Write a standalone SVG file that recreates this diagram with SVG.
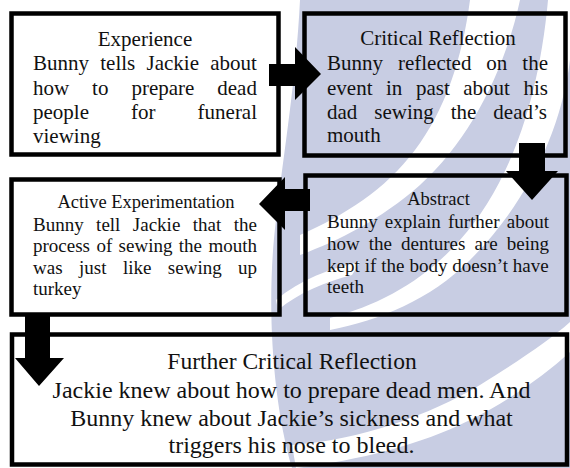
<svg xmlns="http://www.w3.org/2000/svg" width="570" height="468" viewBox="0 0 570 468">
<style>
.box{fill:none;stroke:#000;stroke-width:4.5}
.arr{fill:#000}
text{font-family:"Liberation Serif","Times New Roman",serif;fill:#111}
.t21{font-size:21px}
.t19{font-size:19px}
.h18{font-size:18.5px}
.t24{font-size:24px}
.h23{font-size:23.5px}
.c{text-anchor:middle}
.wm{fill:#c8cde3}
.wh{fill:#ffffff}
</style>
<rect width="570" height="468" fill="#fff"/>
<g id="watermark">
<path class="wm" d="M300 0 L570 0 L570 468 L292 468 C272 400 266 300 276 220 C284 150 296 80 300 0 Z"/>
<path class="wh" d="M470 0 L520 0 C505 70 470 140 420 185 C380 220 340 240 300 255 L300 235 C345 215 385 190 415 150 C445 110 462 60 470 0 Z"/>
<path class="wh" d="M548 0 L570 0 L570 60 C560 140 520 210 470 260 C430 300 380 320 330 330 L330 318 C380 305 425 280 460 240 C505 190 538 110 548 0 Z"/>
<path class="wh" d="M292 445 C360 440 430 415 480 385 C520 360 550 340 570 322 L570 352 C545 375 510 400 470 420 C420 445 360 460 296 468 Z"/>
<path class="wh" d="M276 300 C300 280 330 268 360 262 L352 275 C325 282 300 292 278 310 Z"/>
</g>
<g id="connectors">
<polygon class="arr" points="269,64 295,64 295,47 321,74 295,100 295,86 269,86"/>
<polygon class="arr" points="519,143 545,143 545,171 558,171 532,200 506,171 519,171"/>
<polygon class="arr" points="310,189 285,189 285,177 259,204 285,230 285,211 310,211"/>
<polygon class="arr" points="25,316 50,316 50,358 64,358 39,386 15,358 25,358"/>
</g>
<g id="experience">
<rect class="box" x="11.5" y="13.5" width="267" height="141"/>
<text class="t21 c" x="145" y="46">Experience</text>
<text class="t21" x="33" y="70" word-spacing="6">Bunny tells Jackie about</text>
<text class="t21" x="33" y="94.5" word-spacing="17.7">how to prepare dead</text>
<text class="t21" x="33" y="119" word-spacing="36.8">people for funeral</text>
<text class="t21" x="33" y="143">viewing</text>
</g>
<g id="critical-reflection">
<rect class="box" x="304.5" y="13.5" width="261" height="142"/>
<text class="t21 c" x="438" y="45">Critical Reflection</text>
<text class="t21" x="327" y="70" word-spacing="9.7">Bunny reflected on the</text>
<text class="t21" x="327" y="95" word-spacing="8.3">event in past about his</text>
<text class="t21" x="327" y="118.5" word-spacing="11.7">dad sewing the dead’s</text>
<text class="t21" x="327" y="142">mouth</text>
</g>
<g id="abstract">
<rect class="box" x="305.5" y="175.5" width="261" height="139"/>
<text class="h18 c" x="438.5" y="205">Abstract</text>
<text class="t19" x="327" y="228" word-spacing="2.4">Bunny explain further about</text>
<text class="t19" x="327" y="250" word-spacing="4.3">how the dentures are being</text>
<text class="t19" x="327" y="272" word-spacing="0.2">kept if the body doesn’t have</text>
<text class="t19" x="327" y="293">teeth</text>
</g>
<g id="active-experimentation">
<rect class="box" x="11.5" y="179.5" width="268" height="135"/>
<text class="h18 c" x="146" y="208">Active Experimentation</text>
<text class="t19" x="33" y="230.5" word-spacing="7.7">Bunny tell Jackie that the</text>
<text class="t19" x="33" y="252" word-spacing="1.65">process of sewing the mouth</text>
<text class="t19" x="33" y="273.5" word-spacing="11.7">was just like sewing up</text>
<text class="t19" x="33" y="295">turkey</text>
</g>
<g id="further-critical-reflection">
<rect class="box" x="12" y="334.5" width="555" height="130"/>
<text class="h23 c" x="292" y="369">Further Critical Reflection</text>
<text class="t24 c" x="291.5" y="398">Jackie knew about how to prepare dead men. And</text>
<text class="t24 c" x="291.5" y="426">Bunny knew about Jackie’s sickness and what</text>
<text class="t24 c" x="291.5" y="453">triggers his nose to bleed.</text>
</g>
</svg>
